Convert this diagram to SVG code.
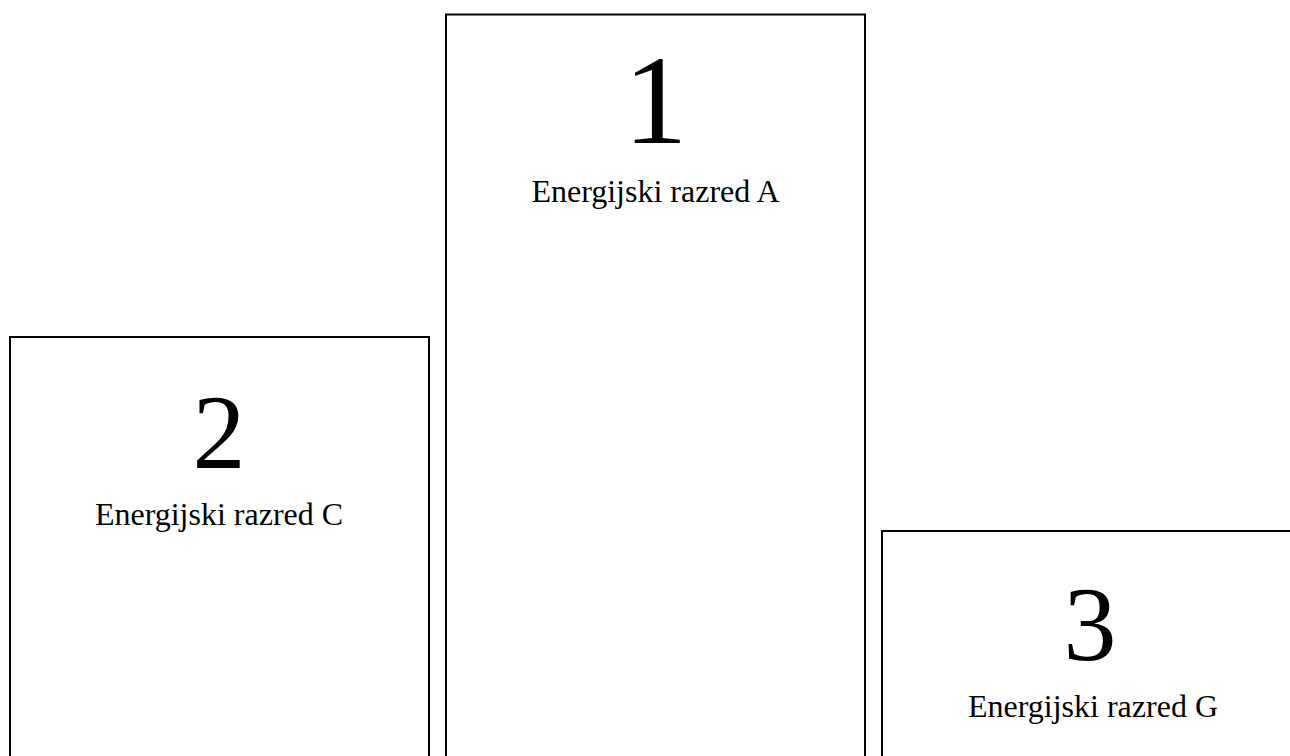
<svg xmlns="http://www.w3.org/2000/svg" width="1290" height="756" viewBox="0 0 1290 756">
<style>
.box{fill:#fff;stroke:#000;stroke-width:2}
.big{font-family:"Liberation Serif","Times New Roman",serif;fill:#000;text-anchor:middle}
.lbl{font-family:"Liberation Serif","Times New Roman",serif;font-size:32px;fill:#000;text-anchor:middle}
</style>
<rect width="1290" height="756" fill="#fff"/>
<g id="node-2">
<rect class="box" x="10" y="337" width="419" height="440"/>
<text class="big" x="219" y="468" font-size="106">2</text>
<text class="lbl" x="219" y="525">Energijski razred C</text>
</g>
<g id="node-1">
<rect class="box" x="446" y="14.5" width="419" height="760"/>
<text class="big" x="655.5" y="143" font-size="128">1</text>
<text class="lbl" x="655.5" y="202">Energijski razred A</text>
</g>
<g id="node-3">
<rect class="box" x="882" y="531" width="419" height="260"/>
<text class="big" x="1090" y="660" font-size="106">3</text>
<text class="lbl" x="1093" y="717">Energijski razred G</text>
</g>
<g id="connectors"></g>
</svg>
